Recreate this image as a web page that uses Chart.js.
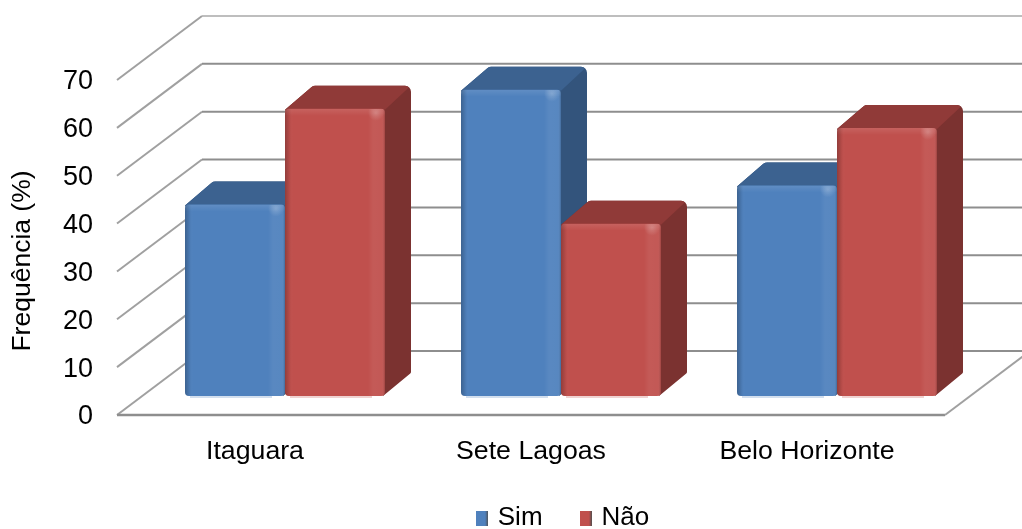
<!DOCTYPE html>
<html>
<head>
<meta charset="utf-8">
<title>Frequência</title>
<script src="https://cdn.jsdelivr.net/npm/chart.js@4"></script>
<style>
  html, body { margin: 0; padding: 0; background: #fff; }
  canvas { display: block; }
</style>
</head>
<body>
<canvas id="myChart" width="1022" height="529"></canvas>
<script>
const cities = ['Itaguara', 'Sete Lagoas', 'Belo Horizonte'];
const simValues = [40, 64, 44];
const naoValues = [60, 36, 56];
const seriesNames = ['Sim', 'Não'];
const yTicks = [0, 10, 20, 30, 40, 50, 60, 70];
const yTitle = 'Frequência (%)';

const frontColors = ['#4f81bd', '#c0504d'];
const topColors = ['#3c6290', '#903a38'];
const sideColors = ['#33547c', '#7b3230'];

// box depth of the floor and walls
const wallX = 85, wallY = -64;
// bars stand inside the box, and have a depth of their own
const barShiftX = 30, barShiftY = -19;
const barDepthX = 26, barDepthY = -23;

Chart.defaults.font.family = '"Liberation Sans", Arial, sans-serif';
Chart.defaults.color = '#000';

function makeSwatch(color) {
  const c = document.createElement('canvas');
  c.width = 12;
  c.height = 15;
  const g = c.getContext('2d');
  const grad = g.createLinearGradient(0, 0, 12, 0);
  grad.addColorStop(0, color);
  grad.addColorStop(0.75, color);
  grad.addColorStop(1, 'rgba(60,60,60,0.9)');
  g.fillStyle = grad;
  g.fillRect(0, 0, 12, 15);
  return c;
}

function line(ctx, x1, y1, x2, y2) {
  ctx.beginPath();
  ctx.moveTo(x1, y1);
  ctx.lineTo(x2, y2);
  ctx.stroke();
}

// polygon path, each point is [x, y, corner radius]
function facePath(ctx, pts) {
  const n = pts.length;
  ctx.beginPath();
  ctx.moveTo((pts[0][0] + pts[n - 1][0]) / 2, (pts[0][1] + pts[n - 1][1]) / 2);
  for (let i = 0; i < n; i++) {
    const next = pts[(i + 1) % n];
    ctx.arcTo(pts[i][0], pts[i][1], next[0], next[1], pts[i][2]);
  }
  ctx.closePath();
}

const boxPlugin = {
  id: 'box3d',
  afterLayout(chart) {
    // legend sits off centre, under the right part of the plot
    const legend = chart.legend;
    legend.left += 92;
    legend.right += 92;
    legend.top = 464;
    // room for the descenders of the category names
    chart.scales.x.bottom = 480;
  },
  beforeDatasetsDraw(chart) {
    const ctx = chart.ctx;
    const x = chart.scales.x, y = chart.scales.y;

    // back wall and left wall
    ctx.save();
    y.ticks.forEach(t => {
      const py = y.getPixelForValue(t.value);
      ctx.strokeStyle = '#a0a0a0';
      ctx.lineWidth = 2;
      line(ctx, x.left, py, x.left + wallX, py + wallY);
      ctx.strokeStyle = t.value === 70 ? '#a8a8a8' : '#8e8e8e';
      ctx.lineWidth = t.value === 70 ? 1.5 : 2;
      line(ctx, x.left + wallX, py + wallY, x.right + wallX, py + wallY);
    });
    // floor
    const y0 = y.getPixelForValue(0);
    ctx.strokeStyle = '#8e8e8e';
    ctx.lineWidth = 2.5;
    line(ctx, x.left, y0, x.right, y0);
    ctx.strokeStyle = '#a0a0a0';
    ctx.lineWidth = 2;
    line(ctx, x.right, y0, x.right + wallX, y0 + wallY);
    ctx.restore();

    // top and side faces go below all the fronts, Sim before Não
    [0, 1].forEach(ds => {
      chart.getDatasetMeta(ds).data.forEach(el => {
        const l = el.x - el.width / 2 + barShiftX;
        const r = l + el.width;
        const t = el.y + barShiftY;
        const b = el.base + barShiftY;
        const back = t + barDepthY;
        ctx.save();
        // outline of top and side together, so the back corner stays round
        facePath(ctx, [[l, t + 1, 0], [l + barDepthX + 2, back, 6], [r + barDepthX, back, 6],
          [r + barDepthX, b + barDepthY, 2], [r - 2, b, 0]]);
        ctx.fillStyle = sideColors[ds];
        ctx.fill();
        ctx.clip();
        facePath(ctx, [[l, t + 1, 0], [l, back - 5, 0], [r + barDepthX + 5, back - 5, 0], [r, t + 1, 0]]);
        ctx.fillStyle = topColors[ds];
        ctx.fill();
        ctx.restore();
      });
    });
  },
  beforeDatasetDraw(chart) {
    // fronts stand back from the axis plane
    chart.ctx.save();
    chart.ctx.translate(barShiftX, barShiftY);
  },
  afterDatasetDraw(chart, args) {
    const ctx = chart.ctx;
    args.meta.data.forEach(el => {
      const l = el.x - el.width / 2;
      const w = el.width;
      const t = el.y;
      const h = el.base - el.y;

      // pale reflection just under the bar
      ctx.globalAlpha = 0.25;
      ctx.fillStyle = frontColors[args.index];
      ctx.fillRect(l + 5, el.base, w - 18, 2);
      ctx.globalAlpha = 1;

      ctx.save();
      ctx.beginPath();
      ctx.roundRect(l, t, w, h, 4);
      ctx.clip();

      const side = ctx.createLinearGradient(l, 0, l + w, 0);
      side.addColorStop(0, 'rgba(0,0,0,0.24)');
      side.addColorStop(0.05, 'rgba(0,0,0,0.04)');
      side.addColorStop(0.08, 'rgba(255,255,255,0)');
      side.addColorStop(0.83, 'rgba(255,255,255,0)');
      side.addColorStop(0.88, 'rgba(255,255,255,0.06)');
      side.addColorStop(0.97, 'rgba(255,255,255,0.05)');
      side.addColorStop(1, 'rgba(0,0,0,0.18)');
      ctx.fillStyle = side;
      ctx.fillRect(l, t, w, h);

      const bevel = ctx.createLinearGradient(0, t, 0, t + 7);
      bevel.addColorStop(0, 'rgba(255,255,255,0.1)');
      bevel.addColorStop(1, 'rgba(255,255,255,0)');
      ctx.fillStyle = bevel;
      ctx.fillRect(l, t, w, 7);

      const spot = ctx.createRadialGradient(l + w - 9, t + 4, 0, l + w - 9, t + 4, 8);
      spot.addColorStop(0, 'rgba(255,255,255,0.22)');
      spot.addColorStop(1, 'rgba(255,255,255,0)');
      ctx.fillStyle = spot;
      ctx.fillRect(l + w - 18, t, 18, 14);
      ctx.restore();
    });
    ctx.restore();
  },
  afterDraw(chart) {
    const ctx = chart.ctx;
    ctx.save();
    ctx.translate(23, 261);
    ctx.rotate(-Math.PI / 2);
    ctx.font = '26.5px "Liberation Sans", Arial, sans-serif';
    ctx.fillStyle = '#000';
    ctx.textAlign = 'center';
    ctx.textBaseline = 'middle';
    ctx.fillText(yTitle, 0, 0);
    ctx.restore();
  }
};

new Chart(document.getElementById('myChart'), {
  type: 'bar',
  data: {
    labels: cities,
    datasets: [
      { label: seriesNames[0], data: simValues, backgroundColor: frontColors[0] },
      { label: seriesNames[1], data: naoValues, backgroundColor: frontColors[1] }
    ]
  },
  options: {
    responsive: false,
    animation: false,
    layout: { padding: { top: 80, right: 77 } },
    datasets: {
      bar: {
        barPercentage: 1,
        categoryPercentage: 200 / 276,
        borderRadius: 4,
        borderSkipped: false,
        clip: false
      }
    },
    scales: {
      x: {
        grid: { display: false, drawTicks: false },
        border: { display: false },
        ticks: { padding: 21, font: { size: 26.7 }, maxRotation: 0 },
        afterFit(s) { s.height = 37; }
      },
      y: {
        min: 0,
        max: 70,
        afterBuildTicks(s) { s.ticks = yTicks.map(v => ({ value: v })); },
        grid: { display: false, drawTicks: false },
        border: { display: false },
        ticks: { padding: 24, labelOffset: 2, font: { size: 27 } },
        afterFit(s) { s.width = 117; }
      }
    },
    plugins: {
      tooltip: { enabled: false },
      legend: {
        position: 'bottom',
        labels: {
          usePointStyle: true,
          pointStyleWidth: 5,
          padding: 41,
          font: { size: 26 },
          generateLabels() {
            return seriesNames.map((name, i) => ({
              text: name,
              datasetIndex: i,
              hidden: false,
              lineWidth: 0,
              fillStyle: frontColors[i],
              strokeStyle: frontColors[i],
              pointStyle: makeSwatch(frontColors[i])
            }));
          }
        }
      }
    }
  },
  plugins: [boxPlugin]
});
</script>
</body>
</html>
